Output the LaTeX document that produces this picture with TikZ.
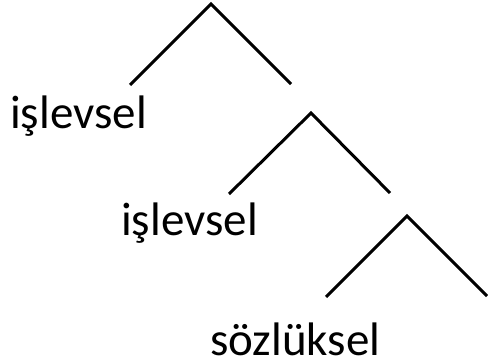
\documentclass[tikz,border=0pt]{standalone}
\usepackage{fontspec}
\setmainfont{Carlito}
\begin{document}
\begin{tikzpicture}[x=1pt,y=-1pt,
  branch/.style={draw=black,line width=3pt},
  word/.style={font=\fontsize{47}{50}\selectfont,inner sep=0pt,anchor=base west}]
\useasboundingbox (0,0) rectangle (488,364);
% tree 1
\coordinate (t1) at (211,4);
\coordinate (l1) at (130,85);
\coordinate (r1) at (291,84);
\draw[branch] (l1) -- (t1) -- (r1);
% tree 2
\coordinate (t2) at (311,113);
\coordinate (l2) at (229,194);
\coordinate (r2) at (390,193);
\draw[branch] (l2) -- (t2) -- (r2);
% tree 3
\coordinate (t3) at (407,216);
\coordinate (l3) at (326,297);
\coordinate (r3) at (487,296);
\draw[branch] (l3) -- (t3) -- (r3);
\node[word] (w1) at (10,128) {işlevsel};
\node[word] (w2) at (121,235) {işlevsel};
\node[word] (w3) at (210,355) {sözlüksel};
\end{tikzpicture}
\end{document}
